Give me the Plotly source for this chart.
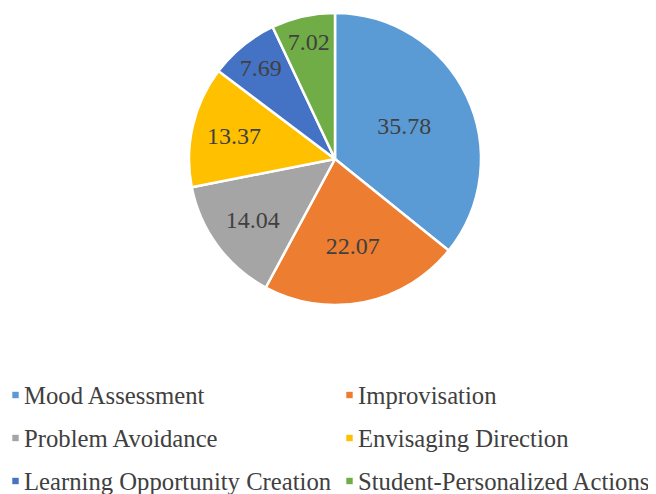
import plotly.graph_objects as go

categories = ["Mood Assessment", "Improvisation", "Problem Avoidance",
              "Envisaging Direction", "Learning Opportunity Creation",
              "Student-Personalized Actions"]
values = [35.78, 22.07, 14.04, 13.37, 7.69, 7.02]
colors = ["#5B9BD5", "#ED7D31", "#A5A5A5", "#FFC000", "#4472C4", "#70AD47"]

OFF = 8  # page body margin
W, H = 656 - OFF, 494 - OFF
FONT = "Liberation Serif"
TXT = "#404040"
FS = 24.7

def px(x):
    return (x - OFF) / W

def py(y):
    return 1 - (y - OFF) / H

fig = go.Figure(go.Pie(
    labels=categories,
    values=values,
    sort=False,
    direction="clockwise",
    rotation=0,
    marker=dict(colors=colors, line=dict(color="white", width=2.5)),
    text=[f"{v:.2f}" for v in values],
    textinfo="text",
    textposition="inside",
    insidetextorientation="horizontal",
    textfont=dict(family=FONT, size=24, color=TXT),
    domain=dict(x=[px(14), px(656)], y=[py(305), py(13)]),
    hoverinfo="label+value",
    showlegend=False,
))

# manual legend: 2 columns x 3 rows
col_marker_x = [15.5, 349.5]
row_y = [395, 438, 481]
for i, (name, c) in enumerate(zip(categories, colors)):
    col, row = i % 2, i // 2
    mx = col_marker_x[col]
    my = row_y[row]
    fig.add_shape(
        type="rect", xref="paper", yref="paper",
        xsizemode="pixel", ysizemode="pixel",
        xanchor=px(mx), yanchor=py(my),
        x0=-3.2, x1=3.2, y0=-3.2, y1=3.2,
        fillcolor=c, line=dict(width=0),
    )
    fig.add_annotation(
        x=px(mx + 6), y=py(my), xref="paper", yref="paper",
        xanchor="left", yanchor="middle", showarrow=False,
        text=name, font=dict(family=FONT, size=FS, color=TXT),
    )

fig.update_layout(
    width=W, height=H,
    margin=dict(l=0, r=0, t=0, b=0),
    paper_bgcolor="white",
    plot_bgcolor="white",
    font=dict(family=FONT, size=FS, color=TXT),
    showlegend=False,
)

fig.write_html("out.html")
